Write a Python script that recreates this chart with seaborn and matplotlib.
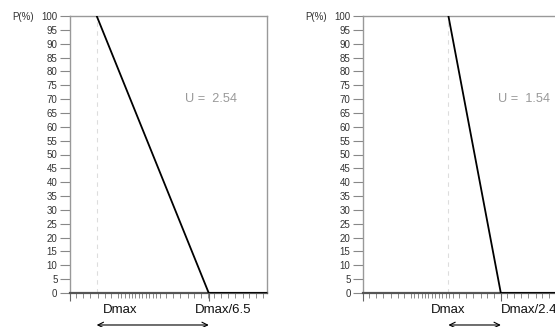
import matplotlib
matplotlib.use("Agg")
import matplotlib.pyplot as plt
from matplotlib.ticker import NullFormatter, FixedLocator
import seaborn as sns
import pandas as pd

# ---- data ----
axis_max = 100.0          # left end of the (reversed, log) size axis
axis_min = 3.72           # right end of the size axis
dmax_values = [64.0, 24.0]          # Dmax of each panel
ratios = [6.5, 2.4]                  # Dmax / ratio gives P = 0
ratio_labels = ["Dmax/6.5", "Dmax/2.4"]
u_values = ["2.54", "1.54"]
passing = [100, 0, 0]                # P(%) at Dmax, Dmax/ratio, axis end
y_ticks = list(range(0, 101, 5))
sieve_sizes = [100, 90, 80, 71, 63, 56, 50, 45, 42.5, 40, 37.5, 35.5, 33.5,
               31.5, 30, 28, 26.5, 25, 23.6, 22.4, 20, 18, 16, 14, 12.5,
               11.2, 10, 9, 8, 7.1, 6.3, 5.6, 5, 4.5, 4]

sns.set_style("white")
plt.rcParams["font.family"] = ["Liberation Sans", "DejaVu Sans"]

W, H = 555, 327
fig = plt.figure(figsize=(W / 100, H / 100), dpi=100)


def px_axes(x0, y_top, w, h):
    return fig.add_axes([x0 / W, 1 - (y_top + h) / H, w / W, h / H])


panel_x = [70, 363]
label_cfg = [  # (dmax label offset px, ha, ratio label offset px)
    (6, "left", -14),
    (0, "center", 0),
]
u_xfrac = [0.718, 0.815]

for i in range(2):
    ax = px_axes(panel_x[i], 16, 197, 277)
    dmax = dmax_values[i]
    foot = dmax / ratios[i]
    df = pd.DataFrame({"size": [dmax, foot, axis_min], "P": passing})
    ax.axvline(dmax, color="#dddddd", lw=0.8, ls=(0, (4, 4)), zorder=1)
    sns.lineplot(data=df, x="size", y="P", ax=ax, color="black", lw=1.3,
                 estimator=None, sort=False, zorder=3)
    ax.set_xscale("log")
    ax.set_xlim(axis_max, axis_min)
    ax.set_ylim(0, 100)
    ax.set_xlabel("")
    ax.set_ylabel("")

    for s in ["top", "right", "left"]:
        ax.spines[s].set_color("#999999")
        ax.spines[s].set_linewidth(1.0)
    ax.spines["bottom"].set_color("#555555")
    ax.spines["bottom"].set_linewidth(1.6)

    ax.set_yticks(y_ticks)
    ax.set_yticklabels([str(v) for v in y_ticks])
    ax.tick_params(axis="y", which="major", length=7, width=0.8,
                   color="#888888", labelsize=7, labelcolor="#333333",
                   pad=2, left=True)

    ax.xaxis.set_major_locator(FixedLocator([axis_max, foot]))
    ax.xaxis.set_minor_locator(FixedLocator(sieve_sizes))
    ax.xaxis.set_major_formatter(NullFormatter())
    ax.xaxis.set_minor_formatter(NullFormatter())
    ax.tick_params(axis="x", which="major", length=6, width=0.8,
                   color="#666666", bottom=True)
    ax.tick_params(axis="x", which="minor", length=3.5, width=0.6,
                   color="#777777", bottom=True)

    off, ha, roff = label_cfg[i]
    ax.annotate("Dmax", xy=(dmax, 0), xycoords=("data", "axes fraction"),
                xytext=(off * 0.72, -12.2), textcoords="offset points",
                ha=ha, va="center", fontsize=9.5, color="#111111",
                annotation_clip=False)
    ax.annotate(ratio_labels[i], xy=(foot, 0),
                xycoords=("data", "axes fraction"),
                xytext=(roff * 0.72, -12.2), textcoords="offset points",
                ha="left", va="center", fontsize=9.5, color="#111111",
                annotation_clip=False)
    ax.annotate("", xy=(dmax, -0.1155), xycoords=("data", "axes fraction"),
                xytext=(foot, -0.1155), textcoords=("data", "axes fraction"),
                arrowprops=dict(arrowstyle="<->", color="black", lw=0.8,
                                shrinkA=0, shrinkB=0),
                annotation_clip=False)
    ax.text(u_xfrac[i], 0.70, "U =  " + u_values[i], transform=ax.transAxes,
            ha="center", va="center", fontsize=9.2, color="#999999")
    fig.text((panel_x[i] - 46.5) / W, 1 - 17 / H, "P(%)", ha="center",
             va="center", fontsize=7, color="#333333")

fig.savefig("out.png", dpi=100)
